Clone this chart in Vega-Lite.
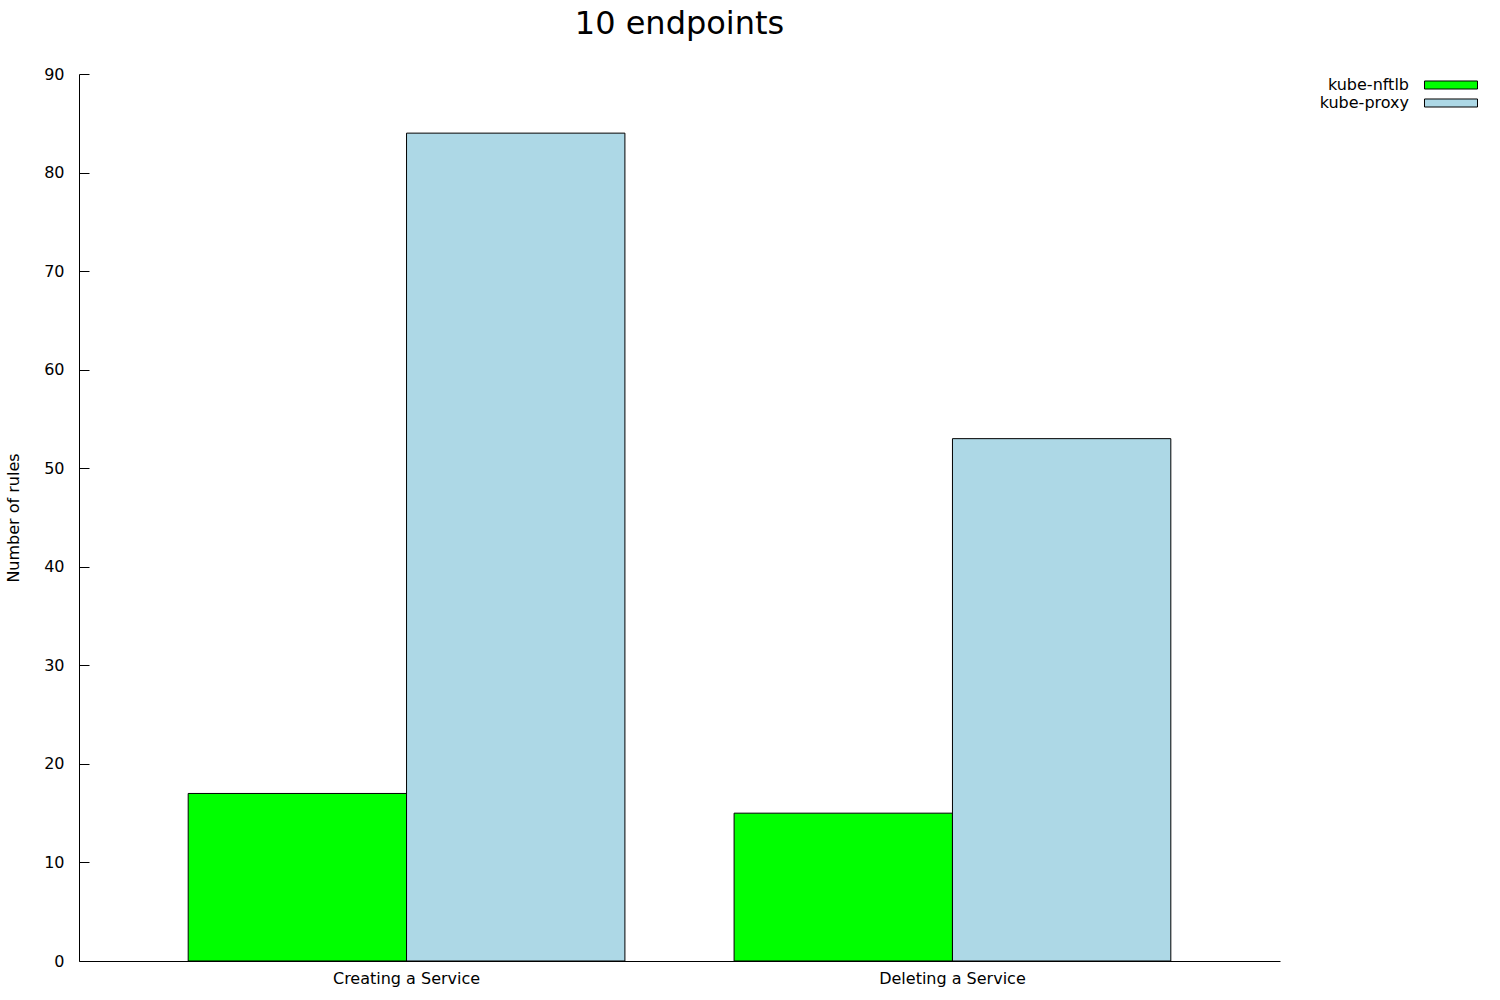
{
  "$schema": "https://vega.github.io/schema/vega-lite/v6.json",
  "width": 1201,
  "height": 887,
  "autosize": "none",
  "padding": {"left": 79, "top": 74, "right": 220, "bottom": 39},
  "background": "white",
  "title": {"text": "10 endpoints", "fontSize": 32, "font": "DejaVu Sans", "fontWeight": "normal", "color": "black", "anchor": "middle", "offset": 25},
  "config": {
    "view": {"stroke": null},
    "font": "DejaVu Sans",
    "axis": {"labelFont": "DejaVu Sans", "titleFont": "DejaVu Sans", "labelColor": "black", "titleColor": "black", "domainColor": "black", "tickColor": "black", "grid": false}
  },
  "data": {"values": [
    {"action": "Creating a Service", "impl": "kube-nftlb", "rules": 17},
    {"action": "Creating a Service", "impl": "kube-proxy", "rules": 84},
    {"action": "Deleting a Service", "impl": "kube-nftlb", "rules": 15},
    {"action": "Deleting a Service", "impl": "kube-proxy", "rules": 53}
  ]},
  "mark": {"type": "bar", "stroke": "black", "strokeWidth": 1},
  "encoding": {
    "x": {"field": "action", "type": "nominal", "sort": null,
      "scale": {"paddingInner": 0.2, "paddingOuter": 0.2},
      "axis": {"title": null, "labelAngle": 0, "ticks": false, "labelPadding": 9, "labelFontSize": 16, "domainWidth": 1}},
    "xOffset": {"field": "impl", "type": "nominal", "sort": null, "scale": {"paddingInner": 0, "paddingOuter": 0}},
    "y": {"field": "rules", "type": "quantitative",
      "scale": {"domain": [0, 90], "nice": false},
      "axis": {"title": "Number of rules", "titleFontSize": 16, "titleFontWeight": "normal", "titlePadding": 22, "values": [0,10,20,30,40,50,60,70,80,90], "tickSize": -10, "labelPadding": 25, "labelFontSize": 16, "domainWidth": 1, "tickWidth": 1}},
    "fill": {"field": "impl", "type": "nominal", "sort": null,
      "scale": {"domain": ["kube-nftlb", "kube-proxy"], "range": ["#00ff00", "#add8e6"]},
      "legend": {"title": null, "orient": "none", "legendX": 1364, "legendY": 3, "symbolType": "M-4,-0.604L4,-0.604L4,0.604L-4,0.604Z", "symbolSize": 175.6, "symbolStrokeColor": "black", "symbolStrokeWidth": 1, "symbolFillOpacity": 1, "labelAlign": "right", "labelOffset": -50, "labelFontSize": 16, "labelColor": "black", "labelFont": "DejaVu Sans", "rowPadding": 2}}
  }
}
